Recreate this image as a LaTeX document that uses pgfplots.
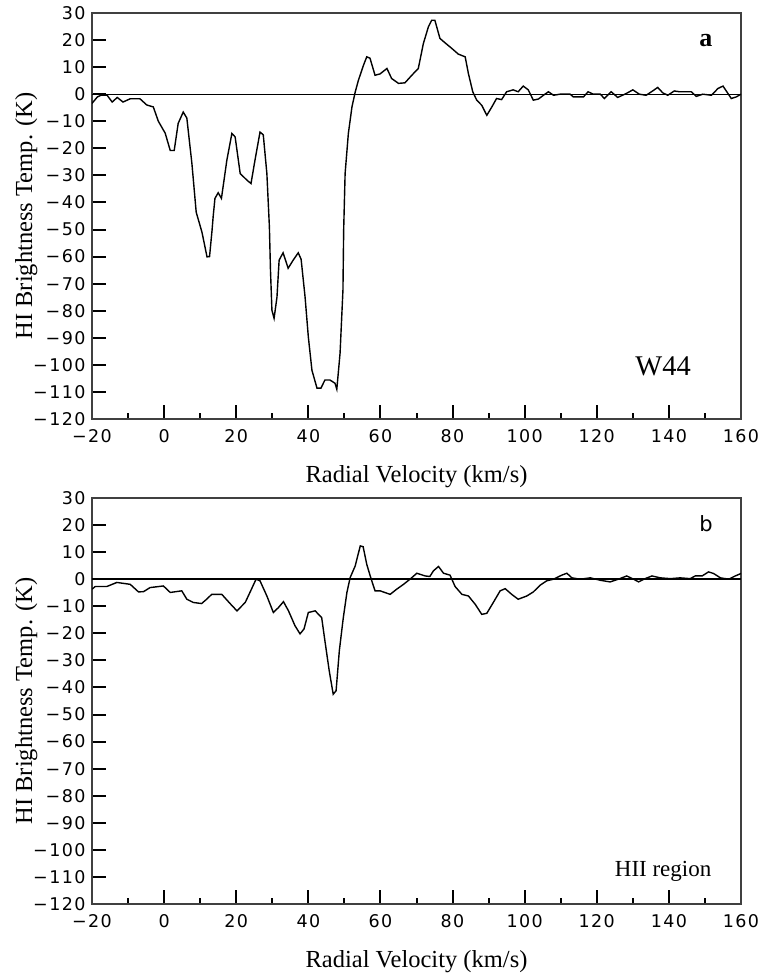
\documentclass[border=0pt]{standalone}
\usepackage{fontspec}
\setmainfont{Liberation Serif}
\newfontfamily\tickfont[LetterSpace=8]{DejaVu Sans}
\newfontfamily\bfont{DejaVu Sans}
\usepackage{pgfplots}
\pgfplotsset{compat=1.18}
\pgfplotsset{
  hiaxis/.style={
    scale only axis, width=649bp, height=406bp,
    xmin=-20, xmax=160, ymin=-120, ymax=30,
    axis line style={line width=1.3bp, black!75},
    xtick={-20,0,...,160}, minor xtick={-10,10,...,150},
    xticklabels={−20,0,20,40,60,80,100,120,140,160},
    ytick={-120,-110,...,30},
    yticklabels={−120,−110,−100,−90,−80,−70,−60,−50,−40,−30,−20,−10,0,10,20,30},
    xtick pos=bottom, ytick pos=left, tick align=inside,
    major tick length=14bp, minor tick length=6bp,
    tick style={black, line width=2bp},
    tick label style={font=\tickfont\fontsize{17.5bp}{19bp}\selectfont},
    yticklabel style={xshift=-3bp},
    xticklabel style={yshift=-7bp},
    xlabel={Radial Velocity (km/s)},
    ylabel={HI Brightness Temp. (K)},
    label style={font=\fontsize{24.5bp}{28bp}\selectfont},
    xlabel style={at={(axis description cs:0.5,-0.1576)}, anchor=base},
    ylabel style={at={(axis description cs:-0.0924,0.5)}, anchor=base},
  }
}
\begin{document}
\begin{tikzpicture}
\path[use as bounding box] (0,0) rectangle (761bp,977bp);
\begin{axis}[hiaxis, at={(92bp,558bp)}, anchor=south west]
\addplot[black, line width=0.9bp, forget plot] coordinates {(-20,0) (160,0)};
\addplot[black, line width=1.4bp] coordinates {
(-20,-3.4) (-18.5,-1.0) (-17.5,-0.4) (-15.8,-0.4) (-14.4,-2.9) (-13,-1.2) (-11.4,-2.9) (-9.4,-1.7) (-6.7,-1.7) (-4.8,-4) (-3,-4.7) (-1.6,-10) (0.3,-14.4) (1.7,-20.8) (2.8,-20.8) (3.9,-10.8) (5.3,-6.6) (6.3,-8.8) (7.7,-25.5) (8.9,-43.6) (10.5,-51) (11.9,-60.1) (12.6,-60) (13.3,-50.2) (13.6,-45.3) (14.1,-38.5) (15,-36.4) (15.9,-38.5) (17.4,-24.4) (18.8,-14.5) (19.7,-15.8) (21.1,-29.3) (23,-31.8) (24.1,-33) (25.2,-24.4) (26.6,-14) (27.5,-15) (28.5,-29.3) (29.2,-49) (29.5,-65) (29.9,-79.8) (30.5,-82.8) (31.3,-75) (31.9,-61.3) (33,-58.6) (34.4,-64.3) (35.8,-61.3) (37.2,-58.6) (38,-61) (39.1,-75) (40,-89.7) (41,-102) (42.4,-108.6) (43.5,-108.6) (44.6,-105.6) (46,-105.6) (47.4,-106.8) (47.9,-109) (48.8,-95.7) (49.6,-72.4) (49.8,-50.2) (50.2,-29.3) (51.1,-14.5) (52.1,-4.7) (53,0.8) (53.9,5.2) (55.3,10.7) (56.2,13.8) (57.1,13.3) (58.5,7) (59.9,7.5) (61.8,9.5) (63.1,5.8) (65,4) (66.8,4.2) (68.7,7) (70.5,9.5) (71.9,18.7) (73.3,24.9) (74.2,27.3) (75.1,27.3) (76.5,20.6) (77.9,19) (79.8,16.9) (81.6,14.8) (83.5,13.8) (84.4,7.6) (85.6,0.9) (86.7,-2.2) (88.1,-4.1) (89.5,-7.8) (90.9,-4.7) (92.2,-1.6) (93.6,-2) (95,0.9) (96.8,1.6) (98.2,0.9) (99.6,3) (101,1.6) (102.4,-2.2) (103.8,-1.8) (105.2,-0.4) (106.6,0.9) (108,-0.4) (109.8,0) (112.6,0) (113.5,-1) (116.3,-1) (117.6,0.9) (119,0) (121,0) (122.1,-1.6) (124,0.9) (125.8,-1.2) (128.1,0.2) (130,1.6) (131.8,0) (133.7,-0.4) (135.5,1.2) (136.9,2.5) (138.3,0.5) (139.7,-0.4) (141.5,1.2) (142.9,0.9) (146.2,0.9) (147.6,-0.8) (149.4,0) (151.8,-0.4) (153.6,2.1) (155,3) (156.4,0.2) (157.3,-1.6) (158.7,-1) (160,0)
};
\node[font=\bfseries\fontsize{26bp}{28bp}\selectfont] at (axis description cs:0.946,0.933) {a};
\node[font=\fontsize{28.5bp}{30bp}\selectfont] at (axis description cs:0.880,0.1305) {W44};
\end{axis}
\begin{axis}[hiaxis, at={(92bp,73bp)}, anchor=south west]
\addplot[black, line width=2bp, forget plot] coordinates {(-20,0) (160,0)};
\addplot[black, line width=1.4bp] coordinates {
(-20,-3.7) (-19.1,-2.7) (-15.9,-2.7) (-13.1,-1.2) (-9.4,-1.9) (-7.1,-4.7) (-5.7,-4.6) (-3.9,-3.1) (-0.2,-2.5) (1.7,-4.9) (4.9,-4.3) (6.3,-7.4) (8.1,-8.6) (10.4,-9) (11.8,-7.4) (13.2,-5.6) (16,-5.6) (18.3,-9) (20.2,-11.7) (22.5,-8.6) (23.8,-4.9) (25.5,0) (26.6,-0.6) (28.5,-6.2) (30.3,-12.3) (31.7,-10.5) (33.1,-8.3) (34.5,-11.7) (36.3,-17.2) (37.7,-20.2) (38.8,-18.4) (40,-12.3) (41.9,-11.7) (43.7,-14.2) (44.6,-22.8) (45.8,-33.9) (46.9,-42.5) (47.7,-41.2) (48.6,-26.4) (49.7,-14.2) (50.7,-4.9) (51.6,0.6) (53,4.9) (54.4,12.3) (55.2,12) (56.2,5.5) (57.3,0.6) (58.5,-4.3) (59.9,-4.3) (62.7,-5.6) (64.5,-3.7) (66.4,-1.9) (68.2,0) (70.1,2.2) (72.4,1.2) (73.7,1) (74.7,3.1) (76.1,4.7) (77.5,2.2) (79.3,1.5) (80.7,-2.7) (82.6,-5.6) (84.4,-6.2) (86.3,-9.3) (88.1,-13) (89.5,-12.6) (91.3,-8.6) (93.2,-4.3) (94.6,-3.5) (96.4,-5.6) (98.2,-7.4) (100.6,-6.2) (102.4,-4.7) (104.3,-2.2) (106.1,-0.6) (108,0) (110.3,1.5) (111.7,2.2) (113.1,0.5) (115.4,0) (118.2,0.5) (121,-0.4) (123.7,-1) (126,0) (128.3,1.2) (130.2,0) (131.6,-1) (133.4,0.2) (135.3,1.2) (137.6,0.5) (140.4,0.2) (143.1,0.5) (145.9,0.2) (147.3,1.2) (149.2,1.2) (151,2.7) (152.4,2.1) (154.3,0.5) (156.6,0) (158.4,1.2) (160,2.1)
};
\node[font=\bfont\fontsize{21bp}{23bp}\selectfont] at (axis description cs:0.946,0.936) {b};
\node[font=\fontsize{23bp}{25bp}\selectfont] at (axis description cs:0.880,0.081) {HII region};
\end{axis}
\end{tikzpicture}
\end{document}
